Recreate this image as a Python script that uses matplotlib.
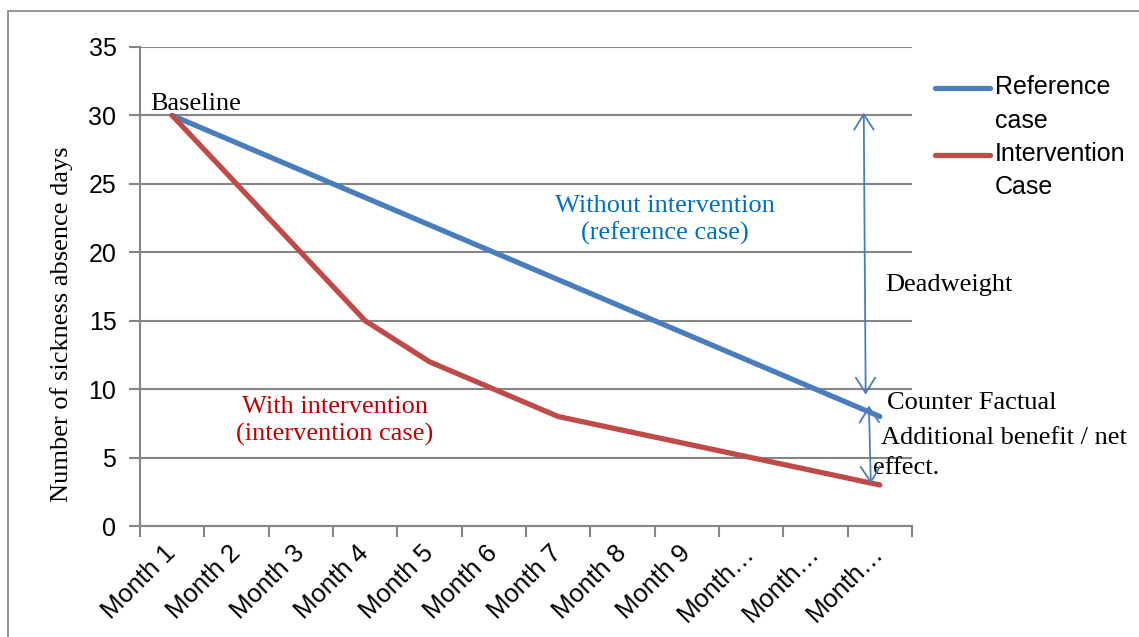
import matplotlib
matplotlib.use("Agg")
import matplotlib.pyplot as plt
from matplotlib.lines import Line2D
from matplotlib.patches import Rectangle

# ---- data ----
categories = ["Month 1", "Month 2", "Month 3", "Month 4", "Month 5", "Month 6",
              "Month 7", "Month 8", "Month 9", "Month 10", "Month 11", "Month 12"]
tick_labels = ["Month 1", "Month 2", "Month 3", "Month 4", "Month 5", "Month 6",
               "Month 7", "Month 8", "Month 9", "Month\u2026", "Month\u2026", "Month\u2026"]
reference_case = [30, 28, 26, 24, 22, 20, 18, 16, 14, 12, 10, 8]
intervention_case = [30, 25, 20, 15, 12, 10, 8, 7, 6, 5, 4, 3]
series_names = ["Reference\ncase", "Intervention\nCase"]
y_ticks = [0, 5, 10, 15, 20, 25, 30, 35]

BLUE = "#4A7EBB"
RED = "#BE4B48"
GRID = "#868686"
SANS = ["Liberation Sans", "DejaVu Sans"]
SERIF = ["Liberation Serif", "DejaVu Serif"]

W, H = 1139, 637
fig = plt.figure(figsize=(W / 100, H / 100), dpi=100)
fig.patch.set_facecolor("white")

# outer frame
fig.add_artist(Rectangle((8 / W, -0.05), 1.2, 1 - 11 / H + 0.05,
                         transform=fig.transFigure, fill=False,
                         edgecolor="#8c8c8c", lw=1.3))

ax = fig.add_axes([140 / W, 1 - 526 / H, (912 - 140) / W, (526 - 47) / H])
x = list(range(len(categories)))

ax.set_xlim(-0.5, len(categories) - 0.5)
ax.set_ylim(0, 35)
ax.set_yticks(y_ticks)
ax.yaxis.grid(True, color=GRID, lw=1.5)
ax.set_axisbelow(True)

for s in ["top", "right"]:
    ax.spines[s].set_visible(False)
for s in ["left", "bottom"]:
    ax.spines[s].set_color(GRID)
    ax.spines[s].set_linewidth(1.5)

ln_ref, = ax.plot(x, reference_case, color=BLUE, lw=3.8, solid_capstyle="round")
ln_int, = ax.plot(x, intervention_case, color=RED, lw=3.8, solid_capstyle="round")

# x ticks at category boundaries, labels at centers
ax.set_xticks([i - 0.5 for i in range(len(categories) + 1)])
ax.set_xticklabels([])
ax.set_xticks(x, minor=True)
ax.set_xticklabels(tick_labels, minor=True, rotation=45, ha="right",
                   va="center", rotation_mode="anchor", fontsize=18.5,
                   family=SANS, color="black")
ax.tick_params(axis="x", which="major", length=8, width=1.5, color=GRID, direction="out")
ax.tick_params(axis="x", which="minor", length=0, pad=17)
ax.tick_params(axis="y", length=8, width=1.5, color=GRID, pad=9)
for lab in ax.get_yticklabels():
    lab.set_fontsize(18)
    lab.set_family(SANS)

fig.text(62 / W, 1 - 324 / H, "Number of sickness absence days", rotation=90,
         ha="center", va="center", fontsize=19, family=SERIF)

# annotations
ax.text(-0.34, 30.4, "Baseline", fontsize=19, family=SERIF, ha="left", va="baseline")
ax.text(7.66, 22.36, "Without intervention\n(reference case)", fontsize=19, family=SERIF,
        ha="center", va="center", color="#0070C0", linespacing=1.3)
ax.text(2.53, 7.67, "With intervention\n(intervention case)", fontsize=19, family=SERIF,
        ha="center", va="center", color="#C00000", linespacing=1.3)
ax.text(11.08, 17.6, "Deadweight", fontsize=19, family=SERIF, ha="left", va="center",
        clip_on=False)
ax.text(11.11, 8.98, "Counter Factual", fontsize=19, family=SERIF, ha="left", va="center",
        clip_on=False)
ax.text(11.02, 6.43, "Additional benefit / net", fontsize=19, family=SERIF, ha="left",
        va="center", clip_on=False)
ax.text(10.89, 4.24, "effect.", fontsize=19, family=SERIF, ha="left", va="center",
        clip_on=False)

arrow_style = "<->,head_length=0.55,head_width=0.35"
ax.annotate("", xy=(10.75, 30.2), xytext=(10.78, 9.6),
            arrowprops=dict(arrowstyle=arrow_style, color=BLUE, lw=1.3,
                            mutation_scale=20, shrinkA=0, shrinkB=0),
            annotation_clip=False)
ax.annotate("", xy=(10.83, 8.8), xytext=(10.86, 3.1),
            arrowprops=dict(arrowstyle=arrow_style, color=BLUE, lw=1.3,
                            mutation_scale=20, shrinkA=0, shrinkB=0),
            annotation_clip=False)

# legend (manual, to keep handle aligned with the first label line)
for (line, name, ypx) in [(ln_ref, series_names[0], 88), (ln_int, series_names[1], 155)]:
    fig.add_artist(Line2D([935 / W, 990 / W], [1 - ypx / H, 1 - ypx / H],
                          transform=fig.transFigure, color=line.get_color(),
                          lw=3.8, solid_capstyle="round"))
    fig.text(995 / W, 1 - (ypx - 13) / H, name, fontsize=18, family=SANS,
             ha="left", va="top", linespacing=1.5)

fig.savefig("out.png", dpi=100, facecolor="white")
